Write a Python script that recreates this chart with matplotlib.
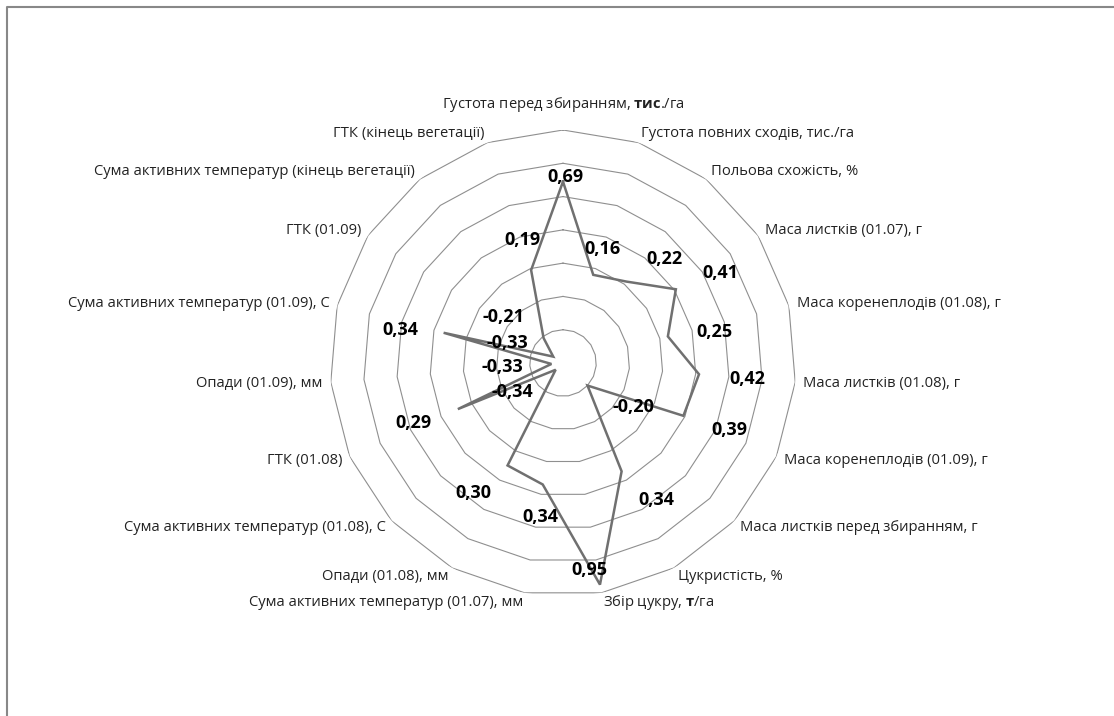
import numpy as np
import matplotlib.pyplot as plt
from matplotlib.lines import Line2D

plt.rcParams['font.family'] = ['Open Sans', 'DejaVu Sans']
plt.rcParams['mathtext.fontset'] = 'custom'
plt.rcParams['mathtext.rm'] = 'Open Sans'
plt.rcParams['mathtext.bf'] = 'Open Sans:bold'

categories = [
    'Густота перед збиранням, $\\mathbf{тис}$./га',
    'Густота повних сходів, тис./га',
    'Польова схожість, %',
    'Маса листків (01.07), г',
    'Маса коренеплодів (01.08), г',
    'Маса листків (01.08), г',
    'Маса коренеплодів (01.09), г',
    'Маса листків перед збиранням, г',
    'Цукристість, %',
    'Збір цукру, $\\mathbf{т}$/га',
    'Сума активних температур (01.07), мм',
    'Опади (01.08), мм',
    'Сума активних температур (01.08), С',
    'ГТК (01.08)',
    'Опади (01.09), мм',
    'Сума активних температур (01.09), С',
    'ГТК (01.09)',
    'Сума активних температур (кінець вегетації)',
    'ГТК (кінець вегетації)',
]
values = [0.69, 0.16, 0.22, 0.41, 0.25, 0.42, 0.39, -0.20, 0.34, 0.95,
          0.34, 0.30, -0.34, 0.29, -0.33, 0.34, -0.33, -0.21, 0.19]

# where the data labels sit (angle in degrees, radius in axis units)
label_theta = [0.6, 18.9, 44.2, 60.2, 78.4, 95.0, 112.0, 122.2, 145.8, 172.8,
               188.5, 214.7, 240.4, 248.2, 266.2, 281.4, 289.7, 307.9, 341.6]
label_r = [0.718, 0.324, 0.471, 0.688, 0.527, 0.710, 0.676, 0.097, 0.595, 0.854,
           0.536, 0.550, -0.047, 0.571, -0.033, 0.599, -0.042, 0.050, 0.379]

rmin, rmax = -0.4, 1.0
rings = np.arange(-0.2, 1.01, 0.2)

n = len(categories)
theta = np.arange(n) * 2 * np.pi / n
theta_c = np.append(theta, theta[0])

W, H = 1114, 716
cx, cy, R = 563, 363, 233
fig = plt.figure(figsize=(W / 100, H / 100), dpi=100)
ax = fig.add_axes([(cx - R) / W, 1 - (cy + R) / H, 2 * R / W, 2 * R / H],
                  projection='polar')
ax.set_theta_zero_location('N')
ax.set_theta_direction(-1)
ax.set_ylim(rmin, rmax)
ax.set_xticks([])
ax.set_yticks([])
ax.grid(False)
ax.spines['polar'].set_visible(False)
ax.patch.set_alpha(0)

# polygon grid
for r in rings:
    ax.plot(theta_c, [r] * (n + 1), color='#8f8f8f', lw=0.8, zorder=1)

v = np.append(values, values[0])
ax.plot(theta_c, v, color='#707070', lw=1.8, zorder=3, solid_joinstyle='miter')

for t, r, val in zip(label_theta, label_r, values):
    ax.text(np.deg2rad(t), r, f'{val:.2f}'.replace('.', ','), ha='center',
            va='center', fontsize=13, fontweight='bold', color='black', zorder=4)

for t, name in zip(theta, categories):
    s, c = np.sin(t), np.cos(t)
    if abs(s) < 0.1:
        ha = 'center'
        dx, dy = 0, 26 * np.sign(c)
    else:
        ha = 'left' if s > 0 else 'right'
        dx, dy = 8 * s, 10 * c
    ax.annotate(name, xy=(t, rmax), xytext=(dx, dy), textcoords='offset pixels',
                ha=ha, va='center', fontsize=10.6, color='#222222')

# chart area border (top and left visible)
fig.add_artist(Line2D([7 / W, 7 / W, 1], [0, 1 - 7 / H, 1 - 7 / H],
                      transform=fig.transFigure, color='#888888', lw=1.5))

fig.savefig('out.png', dpi=100)
